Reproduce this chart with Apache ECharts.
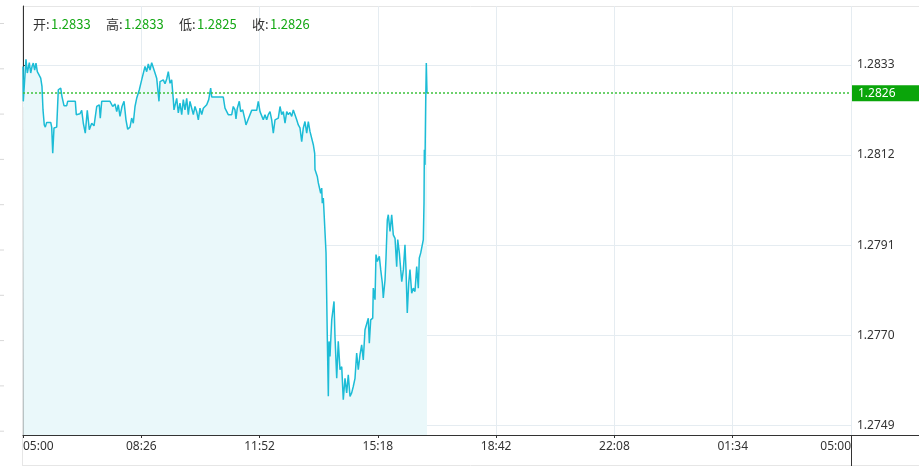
<!DOCTYPE html>
<html>
<head>
<meta charset="utf-8">
<script src="https://cdn.jsdelivr.net/npm/echarts@6/dist/echarts.min.js"></script>
<style>
html,body{margin:0;padding:0;background:#fff;}
#chart{width:919px;height:471px;}
</style>
</head>
<body>
<div id="chart"></div>
<script>
// Minutes after 05:00 for each sampled trade
var times = [0,0.5,5.2,7.5,11.0,13.4,15.7,17.9,20.3,22.6,24.9,28.3,30.8,33.0,34.8,37.0,38.8,41.2,48.2,49.9,
51.7,53.9,58.6,61.4,65.6,67.8,71.3,76.0,77.7,91.0,92.7,99.1,102.1,104.9,108.3,111.8,115.3,119.5,123.5,128.2,
132.7,134.4,136.9,151.3,156.0,160.0,163.0,165.7,168.7,172.2,175.7,179.1,182.1,186.1,189.0,191.8,194.8,197.7,202.3,206.4,
209.2,212.2,215.1,217.9,220.9,223.8,226.6,229.6,232.5,236.5,238.3,244.0,247.0,249.9,252.7,255.7,258.6,261.4,262.6,267.3,
270.1,273.0,276.0,278.8,281.7,284.7,287.5,290.4,293.4,296.2,299.1,302.1,304.9,307.8,310.8,313.6,316.5,319.5,323.0,326.4,
328.2,348.3,351.3,354.3,357.0,363.0,365.7,368.7,370.4,372.7,376.2,378.6,382.1,386.1,387.8,391.8,394.8,397.7,406.4,409.2,
412.2,415.1,417.9,420.9,423.8,426.6,429.6,432.5,435.3,438.3,441.2,444.0,447.0,449.9,452.7,455.7,458.6,461.4,464.3,467.3,
470.1,473.0,476.0,478.8,481.7,484.7,487.5,490.4,493.4,496.2,499.1,502.1,504.9,507.3,507.8,511.8,513.6,516.5,517.7,519.5,
520.5,522.3,525.7,527.0,529.2,531.0,532.2,533.9,536.9,538.6,540.9,542.6,545.6,548.3,551.3,554.3,557.0,560.0,562.9,565.7,
568.7,571.6,574.4,577.4,580.3,583.1,586.1,589.0,591.8,594.8,597.7,600.5,602.3,604.7,608.2,609.2,612.2,613.9,616.2,619.7,
622.1,624.9,626.6,629.6,631.3,633.6,635.3,638.3,641.2,644.0,647.0,649.9,651.7,654.5,656.9,658.7,661.5,664.3,666.1,668.3,
670.8,673.0,676.0,678.8,681.7,684.7,687.5,689.2,691.7,693.4,696.2,697.4,698.0,699.1,700.4,701.4,702.6];

var prices = [1.28326,1.28245,1.28343,1.28311,1.28335,1.28311,1.28326,1.28334,1.28318,1.28334,1.28314,1.28312,1.28299,1.28280,1.28225,1.28190,1.28185,1.28196,1.28196,1.28185,
1.28124,1.28183,1.28185,1.28272,1.28276,1.28256,1.28235,1.28235,1.28245,1.28245,1.28214,1.28216,1.28224,1.28194,1.28171,1.28224,1.28179,1.28194,1.28188,1.28233,
1.28237,1.28206,1.28245,1.28245,1.28233,1.28239,1.28221,1.28237,1.28210,1.28233,1.28245,1.28202,1.28180,1.28185,1.28206,1.28194,1.28233,1.28252,1.28272,1.28295,
1.28297,1.28326,1.28314,1.28332,1.28318,1.28335,1.28335,1.28311,1.28299,1.28245,1.28291,1.28295,1.28286,1.28297,1.28314,1.28287,1.28295,1.28249,1.28225,1.28252,
1.28218,1.28241,1.28214,1.28249,1.28225,1.28252,1.28214,1.28245,1.28229,1.28214,1.28233,1.28221,1.28202,1.28229,1.28214,1.28229,1.28225,1.28237,1.28249,1.28276,
1.28255,1.28255,1.28229,1.28233,1.28214,1.28214,1.28233,1.28225,1.28204,1.28229,1.28245,1.28221,1.28225,1.28202,1.28190,1.28204,1.28202,1.28224,1.28224,1.28245,
1.28221,1.28225,1.28202,1.28214,1.28202,1.28214,1.28221,1.28202,1.28171,1.28202,1.28198,1.28206,1.28233,1.28214,1.28221,1.28194,1.28221,1.28214,1.28219,1.28210,
1.28225,1.28214,1.28202,1.28190,1.28183,1.28151,1.28183,1.28198,1.28171,1.28198,1.28175,1.28172,1.28144,1.28124,1.28086,1.28070,1.28055,1.28055,1.28031,1.28043,
1.28008,1.28020,1.28016,1.27892,1.27697,1.27558,1.27686,1.27651,1.27736,1.27736,1.27779,1.27697,1.27600,1.27686,1.27620,1.27627,1.27550,1.27600,1.27566,1.27608,
1.27558,1.27566,1.27581,1.27600,1.27659,1.27620,1.27655,1.27678,1.27643,1.27713,1.27713,1.27740,1.27682,1.27736,1.27740,1.27810,1.27783,1.27888,1.27872,1.27884,
1.27853,1.27822,1.27787,1.27829,1.27880,1.27969,1.27981,1.27942,1.27981,1.27934,1.27926,1.27860,1.27923,1.27892,1.27853,1.27825,1.27853,1.27911,1.27853,1.27752,
1.27822,1.27853,1.27798,1.27810,1.27802,1.27860,1.27810,1.27880,1.27892,1.27895,1.27923,1.28008,1.28132,1.28097,1.28249,1.28334,1.28264];

var xLabels = ['05:00','08:26','11:52','15:18','18:42','22:08','01:34','05:00'];
var yTicks = [1.2749, 1.2770, 1.2791, 1.2812, 1.2833];
var yRange = [1.27468, 1.28467];
var ohlcNames = ['开', '高', '低', '收'];
var ohlcValues = ['1.2833', '1.2833', '1.2825', '1.2826'];
var lastPrice = prices[prices.length - 1];

var dayMinutes = 1440;
var xStep = dayMinutes / (xLabels.length - 1);

var lineColor = '#1cbcd6';
var gridColor = '#e5ecf1';
var axisColor = '#333';
var green = '#14a814';
var dotGreen = '#3cc23c';
var headFont = '"Noto Sans CJK SC", "Noto Sans", sans-serif';

var chart = echarts.init(document.getElementById('chart'), null, {renderer: 'canvas'});

var headerGraphics = [];
ohlcNames.forEach(function (n, i) {
  headerGraphics.push({
    type: 'text', x: 33 + i * 73, y: 24, z: 20,
    style: {text: n + ':', fill: '#333', font: '13px ' + headFont, textVerticalAlign: 'middle', verticalAlign: 'middle'}
  });
  headerGraphics.push({
    type: 'text', x: 51 + i * 73, y: 24, z: 20,
    style: {text: ohlcValues[i], fill: green, font: '13px ' + headFont, textVerticalAlign: 'middle', verticalAlign: 'middle'}
  });
});

var frame = [
  {type: 'line', shape: {x1: 22, y1: 6.5, x2: 919, y2: 6.5}, style: {stroke: '#e6e6e6', lineWidth: 1}, z: 0},
  {type: 'line', shape: {x1: 22.5, y1: 6, x2: 22.5, y2: 466}, style: {stroke: '#e6e6e6', lineWidth: 1}, z: 0},
  {type: 'line', shape: {x1: 22, y1: 465.5, x2: 919, y2: 465.5}, style: {stroke: '#e6e6e6', lineWidth: 1}, z: 0},
  {type: 'line', shape: {x1: 851.5, y1: 435, x2: 851.5, y2: 466}, style: {stroke: axisColor, lineWidth: 1}, z: 10},
  {type: 'line', shape: {x1: 851, y1: 435.5, x2: 919, y2: 435.5}, style: {stroke: axisColor, lineWidth: 1}, z: 10}
];
for (var k = 0; k < 10; k++) {
  frame.push({type: 'line', shape: {x1: 0, y1: 23.5 + k * 45.3, x2: 4, y2: 23.5 + k * 45.3}, style: {stroke: '#d8d8d8', lineWidth: 1}});
}

var markStyle = {type: [2, 2], color: dotGreen, width: 1.5, opacity: 1};

var option = {
  animation: false,
  backgroundColor: '#fff',
  grid: {left: 23, right: 68, top: 6, bottom: 36, containLabel: false},
  xAxis: {
    type: 'value',
    min: 0,
    max: dayMinutes,
    interval: xStep,
    axisLine: {show: true, lineStyle: {color: axisColor}},
    axisTick: {show: true, length: 3, lineStyle: {color: axisColor}},
    splitLine: {show: true, lineStyle: {color: gridColor}},
    axisLabel: {
      color: axisColor,
      fontSize: 12,
      fontFamily: 'Noto Sans',
      margin: 6,
      alignMinLabel: 'left',
      alignMaxLabel: 'right',
      formatter: function (v) { return xLabels[Math.round(v / xStep)] || ''; }
    }
  },
  yAxis: {
    type: 'value',
    position: 'right',
    min: yRange[0],
    max: yRange[1],
    axisLine: {show: true, lineStyle: {color: axisColor}},
    axisTick: {show: true, length: 4, customValues: yTicks, lineStyle: {color: axisColor}},
    splitLine: {show: true, lineStyle: {color: gridColor}},
    axisLabel: {
      customValues: yTicks,
      color: axisColor,
      fontSize: 12,
      fontFamily: 'Noto Sans',
      margin: 6,
      formatter: function (v) { return v.toFixed(4); }
    }
  },
  series: [{
    type: 'line',
    data: times.map(function (t, i) { return [t, prices[i]]; }),
    showSymbol: false,
    symbol: 'none',
    lineStyle: {color: lineColor, width: 1.5},
    areaStyle: {color: '#eaf8fa', opacity: 1},
    markLine: {
      silent: true,
      symbol: ['none', 'none'],
      animation: false,
      itemStyle: {color: dotGreen},
      lineStyle: markStyle,
      label: {
        show: true,
        position: 'end',
        distance: 1,
        formatter: function () { return lastPrice.toFixed(4); },
        backgroundColor: '#0aa50a',
        color: '#fff',
        fontSize: 12,
        fontFamily: 'Noto Sans',
        padding: [2, 24, 2, 6]
      },
      data: [[
        {coord: [0, lastPrice], lineStyle: markStyle, itemStyle: {color: dotGreen}},
        {coord: [dayMinutes, lastPrice]}
      ]]
    }
  }],
  graphic: frame.concat(headerGraphics)
};
chart.setOption(option);
</script>
</body>
</html>
